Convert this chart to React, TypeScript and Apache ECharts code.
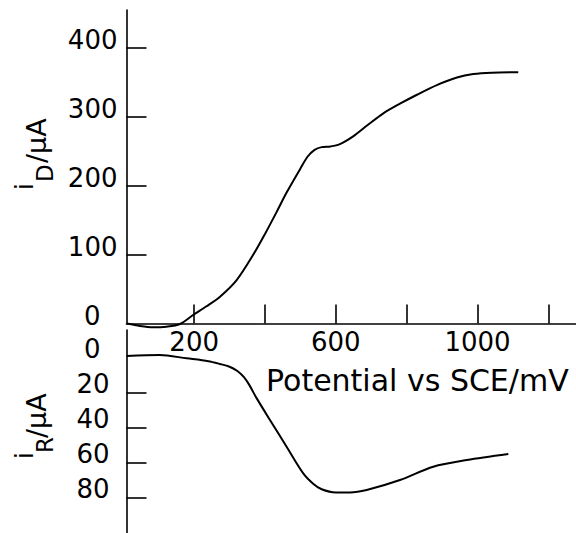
import React, { useEffect, useRef } from "react";
import * as echarts from "echarts";

// Potential (mV) and currents (µA)
const diskPotential = [10, 47, 84, 122, 160, 197, 235, 273, 320, 367, 400, 433, 461, 499, 520, 540, 560, 585, 610, 650, 690, 734, 781, 829, 885, 942, 988, 1040, 1115];
const diskCurrent = [0, -3.6, -5.5, -4.6, -0.7, 12.3, 25, 38.9, 63, 100, 130, 162, 190, 224, 242, 252, 256, 257, 260, 272, 288, 305, 319, 332, 346, 357, 362, 364, 364.6];

const ringPotential = [9, 103, 179, 240, 273, 300, 322, 340, 356, 375, 414, 461, 508, 536, 560, 600, 640, 687, 781, 875, 970, 1087];
const ringCurrent = [-1.1, -1.7, 0.2, 1.8, 3.4, 5.0, 7.4, 10.8, 15.5, 22.5, 35.4, 50.7, 65.9, 71.8, 75, 76.8, 76.8, 75.4, 69.7, 62.1, 58.3, 54.9];

const xTicks = [200, 400, 600, 800, 1000, 1200];
const xLabels = [200, 600, 1000];
const topTicks = [100, 200, 300, 400];
const topLabels = [0, 100, 200, 300, 400];
const bottomTicks = [20, 40, 60, 80];
const bottomLabels = [0, 20, 40, 60, 80];

const FONT = "DejaVu Sans";

export default function App() {
  const ref = useRef<HTMLDivElement>(null);
  useEffect(() => {
    if (!ref.current) return;
    const chart = echarts.init(ref.current, undefined, { renderer: "svg" });
    const lineStyle = { color: "#000", width: 1.6 };
    const labelBase = { color: "#000", fontFamily: FONT, fontSize: 26 };
    const fmt = (v: number) => (v === 0 ? "{z|0}" : "{a|" + v + "}");
    const txt = (text: string, x: number, y: number, size: number, rot: boolean) => ({
      type: "text",
      x,
      y,
      rotation: rot ? Math.PI / 2 : 0,
      style: {
        text,
        fill: "#000",
        fontFamily: FONT,
        fontSize: size,
        align: "left",
        verticalAlign: "middle",
        textAlign: "left",
        textVerticalAlign: "middle",
      },
    });
    chart.setOption({
      animation: false,
      backgroundColor: "#fff",
      grid: [
        { left: 126.5, right: 0, top: 10, height: 313.5 },
        { left: 126.5, right: 0, top: 330, height: 203 },
      ],
      xAxis: [
        {
          gridIndex: 0,
          type: "value",
          min: 9,
          max: 1278,
          position: "bottom",
          axisLine: { onZero: false, lineStyle },
          axisTick: { inside: true, length: 19, customValues: xTicks, lineStyle },
          axisLabel: { ...labelBase, margin: 5, customValues: xLabels, formatter: (v: number) => String(v) },
          splitLine: { show: false },
        },
        {
          gridIndex: 1,
          type: "value",
          min: 9,
          max: 1278,
          show: false,
        },
      ],
      yAxis: [
        {
          gridIndex: 0,
          type: "value",
          min: 0,
          max: 455,
          axisLine: { show: true, lineStyle },
          axisTick: { inside: true, length: 20, customValues: topTicks, lineStyle },
          axisLabel: {
            ...labelBase,
            margin: 9,
            padding: [0, 0, 15, 0],
            customValues: topLabels,
            formatter: fmt,
            rich: { a: { ...labelBase }, z: { ...labelBase, padding: [0, 17, 0, 0] } },
          },
          splitLine: { show: false },
        },
        {
          gridIndex: 1,
          type: "value",
          inverse: true,
          min: -16,
          max: 100,
          axisLine: { show: true, lineStyle },
          axisTick: { inside: true, length: 20, customValues: bottomTicks, lineStyle },
          axisLabel: {
            ...labelBase,
            margin: 17,
            padding: [0, 0, 19, 0],
            customValues: bottomLabels,
            formatter: fmt,
            rich: { a: { ...labelBase }, z: { ...labelBase, padding: [0, 9, 0, 0] } },
          },
          splitLine: { show: false },
        },
      ],
      series: [
        {
          type: "line",
          xAxisIndex: 0,
          yAxisIndex: 0,
          data: diskPotential.map((p, i) => [p, diskCurrent[i]]),
          smooth: 0.3,
          showSymbol: false,
          clip: false,
          lineStyle: { color: "#000", width: 2 },
        },
        {
          type: "line",
          xAxisIndex: 1,
          yAxisIndex: 1,
          data: ringPotential.map((p, i) => [p, ringCurrent[i]]),
          smooth: 0.3,
          showSymbol: false,
          clip: false,
          lineStyle: { color: "#000", width: 2 },
        },
      ],
      graphic: [
        txt("i", 24.5, 190, 25, true),
        txt("D", 44.6, 182, 23, true),
        txt("/μA", 36, 163, 27, true),
        txt("i", 24.5, 459, 25, true),
        txt("R", 44.6, 453, 23, true),
        txt("/μA", 36, 438, 27, true),
        txt("Potential vs SCE/mV", 266, 380, 30, false),
      ],
    });
    return () => chart.dispose();
  }, []);
  return (
    <div
      ref={ref}
      style={{ position: "fixed", left: 0, top: 0, width: 576, height: 533, background: "#fff" }}
    />
  );
}
